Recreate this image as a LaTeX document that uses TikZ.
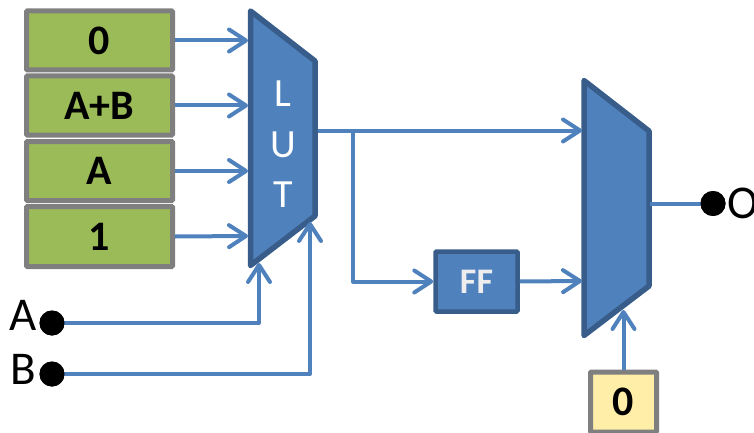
\documentclass[tikz,border=0pt]{standalone}
\usepackage{fontspec}
\setmainfont{Carlito}
\usetikzlibrary{arrows.meta}
\definecolor{wireblue}{HTML}{4F81BD}
\definecolor{darkblue}{HTML}{385D8A}
\definecolor{boxgreen}{HTML}{9BBB59}
\definecolor{boxgray}{HTML}{7F7F7F}
\definecolor{boxyellow}{HTML}{FFEEA8}
\newcommand{\lowered}[1]{\raisebox{-3pt}{#1}}
\tikzset{
  cellbox/.style={draw=boxgray,fill=boxgreen,line width=5pt,rounded corners=1pt,minimum width=146pt,inner sep=0pt,font=\fontsize{42}{42}\selectfont\bfseries,text=black},
  wire/.style={draw=wireblue,line width=4pt,line join=round},
  arrowwire/.style={wire,-{Straight Barb[length=17pt,width=22pt,line width=4pt,round]}},
  muxshape/.style={draw=darkblue,fill=wireblue,line width=5.5pt,line join=round},
  dotnode/.style={circle,fill=black,minimum size=25pt,inner sep=0pt},
  bigtext/.style={inner sep=0pt,font=\fontsize{47}{47}\selectfont,text=black},
  luttext/.style={inner sep=0pt,font=\fontsize{40}{40}\selectfont,text=white}
}
\begin{document}
\begin{tikzpicture}[x=1pt,y=-1pt]
\useasboundingbox (0,0) rectangle (754,433);
% multiplexers
\draw[muxshape] (250.5,11) -- (315,61) -- (315,216) -- (250.5,265.5) -- cycle;
\draw[muxshape] (584,80.5) -- (649,131) -- (649,286) -- (584,335.5) -- cycle;
\coordinate (lutA) at (248,40.5);
\coordinate (lutB) at (248,105.5);
\coordinate (lutC) at (248,171);
\coordinate (lutD) at (248,236);
\coordinate (lutS1) at (259,263);
\coordinate (lutS2) at (310,222);
\coordinate (lutOut) at (318,130.5);
\coordinate (muxA) at (582,130.5);
\coordinate (muxB) at (582,281);
\coordinate (muxS) at (623.5,310);
\coordinate (muxOut) at (650,203.5);
\coordinate (branch) at (353,130.5);
\coordinate (corner) at (353,281.5);
% cells
\node[cellbox,minimum height=59pt] (c0) at (99.5,40.5) {\lowered{0}};
\node[cellbox,minimum height=59pt] (c1) at (99.5,105.5) {\lowered{A+B}};
\node[cellbox,minimum height=59pt] (c2) at (99.5,171) {\lowered{A}};
\node[cellbox,minimum height=60pt] (c3) at (99.5,236.5) {\lowered{1}};
% texts in LUT
\node[luttext] (tl) at (283,94) {L};
\node[luttext] (tu) at (283,145) {U};
\node[luttext] (tt) at (283,195) {T};
% FF
\node[draw=darkblue,fill=wireblue,line width=4.5pt,rounded corners=1pt,minimum width=82pt,minimum height=60pt,inner sep=0pt,font=\fontsize{36}{36}\selectfont\bfseries,text=white!93!black] (ff) at (476.5,281.5) {FF};
% yellow box
\node[draw=boxgray,fill=boxyellow,line width=5pt,rounded corners=1pt,minimum width=66pt,minimum height=60pt,inner sep=0pt,font=\fontsize{42}{42}\selectfont\bfseries,text=black] (y0) at (623.5,402) {\lowered{0}};
% dots
\node[dotnode] (dA) at (52,323) {};
\node[dotnode] (dB) at (52,374) {};
\node[dotnode] (dO) at (713,203.5) {};
\node[bigtext] (lA) at (23,315) {A};
\node[bigtext] (lB) at (23,369) {B};
\node[bigtext,anchor=west] (lO) at (727,203.5) {O};
% connectors
\draw[arrowwire] (c0.east) -- (lutA);
\draw[arrowwire] (c1.east) -- (lutB);
\draw[arrowwire] (c2.east) -- (lutC);
\draw[arrowwire] (c3.east) -- (lutD);
\draw[arrowwire] (dA.center) -| (lutS1);
\draw[arrowwire] (dB.center) -| (lutS2);
\draw[arrowwire] (lutOut) -- (muxA);
\draw[arrowwire] (branch) -- (corner) -- (ff.west);
\draw[arrowwire] (ff.east) -- (muxB);
\draw[arrowwire] (y0.north) -- (muxS);
\draw[wire] (muxOut) -- (dO.center);
\node[dotnode] at (dA) {};
\node[dotnode] at (dB) {};
\node[dotnode] at (dO) {};
\end{tikzpicture}
\end{document}
